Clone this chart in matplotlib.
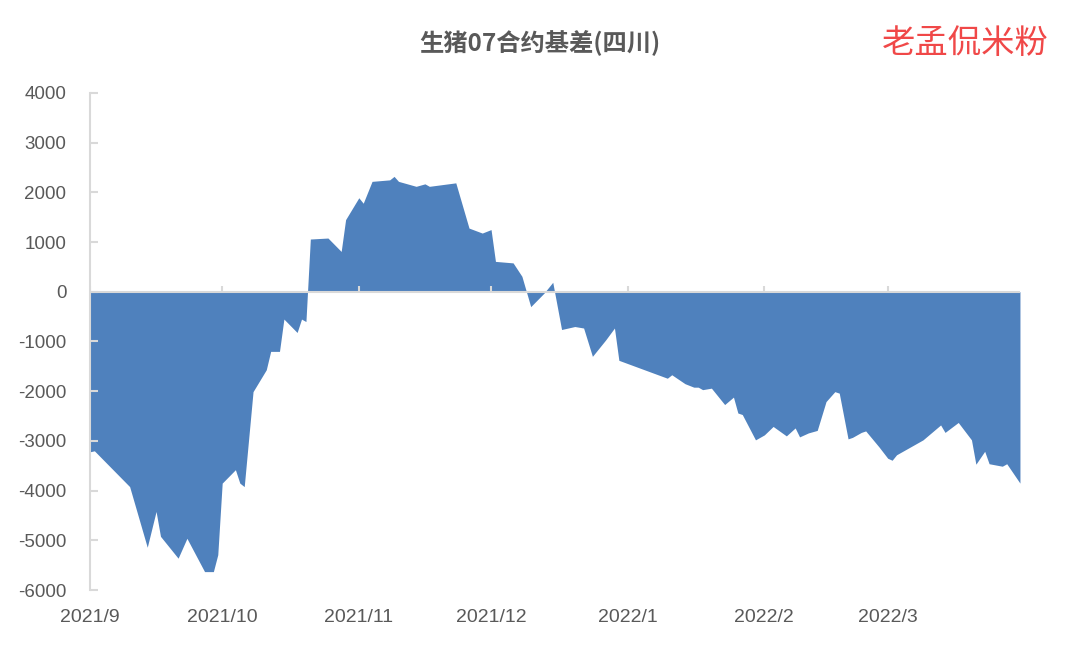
"""
生猪07合约基差(四川) 面积图
"""
import pandas as pd
import matplotlib
matplotlib.use('Agg')
import matplotlib.pyplot as plt

plt.rcParams['font.family'] = ['Liberation Sans', 'Noto Sans CJK SC', 'DejaVu Sans']
plt.rcParams['axes.unicode_minus'] = False

# 数据
dates = [
    '2021-09-01', '2021-09-02', '2021-09-10', '2021-09-14', '2021-09-16', '2021-09-17',
    '2021-09-21', '2021-09-23', '2021-09-27', '2021-09-29', '2021-09-30', '2021-10-01',
    '2021-10-04', '2021-10-05', '2021-10-06', '2021-10-08', '2021-10-11', '2021-10-12',
    '2021-10-14', '2021-10-15', '2021-10-18', '2021-10-19', '2021-10-20', '2021-10-21',
    '2021-10-25', '2021-10-28', '2021-10-29', '2021-11-01', '2021-11-02', '2021-11-04',
    '2021-11-08', '2021-11-09', '2021-11-10', '2021-11-14', '2021-11-16', '2021-11-17',
    '2021-11-23', '2021-11-26', '2021-11-29', '2021-12-01', '2021-12-02', '2021-12-06',
    '2021-12-08', '2021-12-10', '2021-12-13', '2021-12-15', '2021-12-17', '2021-12-20',
    '2021-12-22', '2021-12-24', '2021-12-27', '2021-12-29', '2021-12-30', '2022-01-10',
    '2022-01-11', '2022-01-14', '2022-01-16', '2022-01-17', '2022-01-18', '2022-01-20',
    '2022-01-23', '2022-01-25', '2022-01-26', '2022-01-27', '2022-01-30', '2022-02-01',
    '2022-02-03', '2022-02-06', '2022-02-08', '2022-02-09', '2022-02-11', '2022-02-13',
    '2022-02-15', '2022-02-17', '2022-02-18', '2022-02-20', '2022-02-21', '2022-02-23',
    '2022-02-24', '2022-02-27', '2022-03-01', '2022-03-02', '2022-03-03', '2022-03-09',
    '2022-03-11', '2022-03-13', '2022-03-14', '2022-03-17', '2022-03-20', '2022-03-21',
    '2022-03-23', '2022-03-24', '2022-03-27', '2022-03-28', '2022-03-31',
]
basis = [
    -3220, -3200, -3920, -5140, -4420, -4920,
    -5360, -4960, -5630, -5630, -5290, -3850,
    -3580, -3850, -3920, -2010, -1570, -1200,
    -1200, -550, -820, -550, -600, 1060,
    1080, 810, 1450, 1890, 1780, 2220,
    2250, 2320, 2220, 2120, 2170, 2120,
    2190, 1280, 1180, 1250, 610, 580,
    310, -300, -30, 190, -760, -700,
    -730, -1300, -970, -730, -1380, -1740,
    -1670, -1850, -1920, -1920, -1970, -1940,
    -2270, -2120, -2440, -2470, -2980, -2880,
    -2710, -2900, -2740, -2920, -2840, -2790,
    -2210, -2010, -2040, -2960, -2930, -2830,
    -2800, -3120, -3350, -3390, -3280, -2980,
    -2830, -2680, -2830, -2630, -2980, -3470,
    -3210, -3460, -3510, -3460, -3850,
]
month_starts = ['2021-09-01', '2021-10-01', '2021-11-01', '2021-12-01',
                '2022-01-01', '2022-02-01', '2022-03-01']
month_labels = ['2021/9', '2021/10', '2021/11', '2021/12', '2022/1', '2022/2', '2022/3']
y_ticks = [4000, 3000, 2000, 1000, 0, -1000, -2000, -3000, -4000, -5000, -6000]

x = pd.to_datetime(dates)
months = pd.to_datetime(month_starts)

TEXT_COLOR = '#595959'
AXIS_COLOR = '#D9D9D9'

fig = plt.figure(figsize=(10.8, 6.49), dpi=100)
ax = fig.add_axes([0.0833, 0.0909, 0.8611, 0.766])

ax.fill_between(x, basis, 0, color='#4F81BD', linewidth=0)

ax.set_xlim(pd.Timestamp('2021-09-01'), pd.Timestamp('2022-03-31'))
ax.set_ylim(-6000, 4000)

# 零轴和月份刻度
ax.axhline(0, color=AXIS_COLOR, linewidth=1.5, zorder=3)
ax.vlines(months, 0, 120, color=AXIS_COLOR, linewidth=1.5, zorder=3)

for side in ['top', 'right', 'bottom']:
    ax.spines[side].set_visible(False)
ax.spines['left'].set_color(AXIS_COLOR)
ax.spines['left'].set_linewidth(1.5)

ax.set_yticks(y_ticks)
ax.set_yticklabels([str(v) for v in y_ticks])
ax.tick_params(axis='y', direction='in', length=6, width=1.5, color=AXIS_COLOR,
               labelsize=13.5, labelcolor=TEXT_COLOR, pad=17)

ax.set_xticks(months)
ax.set_xticklabels(month_labels)
ax.tick_params(axis='x', length=0, labelsize=14, labelcolor=TEXT_COLOR, pad=14)

fig.text(0.5, 0.933, '生猪07合约基差(四川)', ha='center', va='center',
         fontsize=17.5, fontweight='bold', color=TEXT_COLOR,
         family=['Noto Sans CJK SC', 'DejaVu Sans'])
fig.text(0.8935, 0.933, '老孟侃米粉', ha='center', va='center',
         fontsize=24, fontweight='light', color='#F04848', family=['Noto Sans CJK SC'])

plt.savefig('out.png', dpi=100)
plt.close()
